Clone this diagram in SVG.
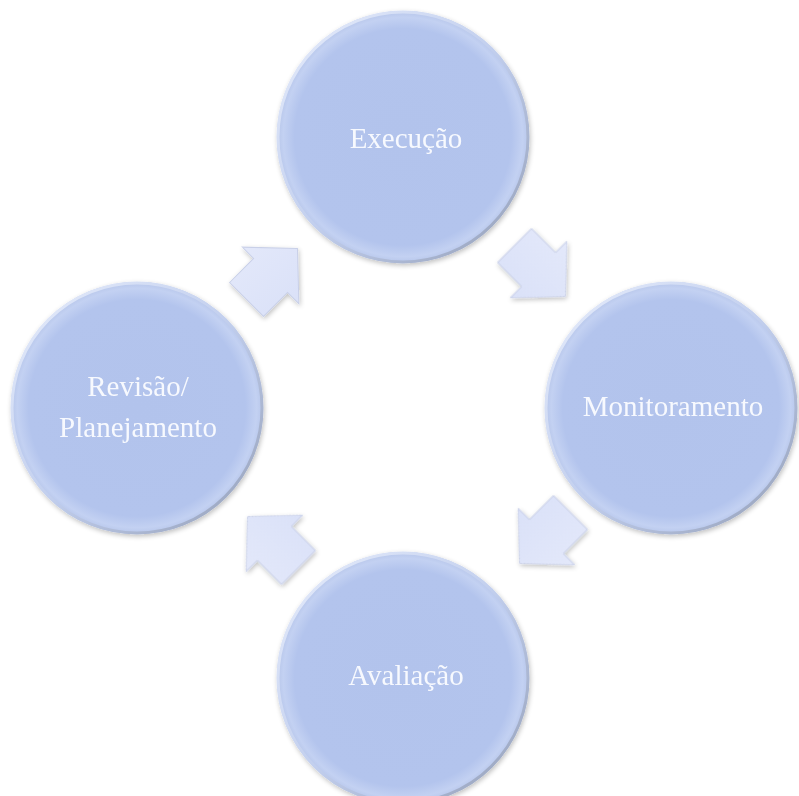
<svg xmlns="http://www.w3.org/2000/svg" width="799" height="796" viewBox="0 0 799 796">
<style>
.lbl{font-family:"Liberation Serif","Times New Roman",serif;font-size:29px;fill:#f7f9fe;text-anchor:middle}
.arr{fill:url(#arrFill);stroke:#c9d0e8;stroke-width:1}
.circ{fill:url(#circFill)}
.rim{fill:none;stroke:url(#rimGrad);stroke-width:3}
</style>
<defs>
<radialGradient id="circFill" cx="0.5" cy="0.5" r="0.5">
<stop offset="0" stop-color="#b2c3ec"/>
<stop offset="0.86" stop-color="#b3c4ed"/>
<stop offset="0.95" stop-color="#c3d1f2"/>
<stop offset="1" stop-color="#b7c6ea"/>
</radialGradient>
<linearGradient id="rimGrad" x1="0" y1="0" x2="1" y2="1">
<stop offset="0" stop-color="#e8eefc"/>
<stop offset="0.5" stop-color="#c2cfee"/>
<stop offset="1" stop-color="#939eb6"/>
</linearGradient>
<linearGradient id="arrFill" x1="0" y1="0" x2="0" y2="1">
<stop offset="0" stop-color="#e3e8fa"/>
<stop offset="1" stop-color="#dae1f8"/>
</linearGradient>
<filter id="sh" x="-20%" y="-20%" width="140%" height="140%">
<feGaussianBlur in="SourceAlpha" stdDeviation="2.5"/>
<feOffset dx="1" dy="2"/>
<feComponentTransfer><feFuncA type="linear" slope="0.25"/></feComponentTransfer>
<feMerge><feMergeNode/><feMergeNode in="SourceGraphic"/></feMerge>
</filter>
<polygon id="arrow" points="-36,-24 -2,-24 -2,-40 36,0 -2,40 -2,24 -36,24"/>
</defs>

<g id="connectors" filter="url(#sh)">
<use href="#arrow" class="arr" transform="translate(272,274) rotate(-45)"/>
<use href="#arrow" class="arr" transform="translate(540,271) rotate(45)"/>
<use href="#arrow" class="arr" transform="translate(545,538) rotate(135)"/>
<use href="#arrow" class="arr" transform="translate(273,542) rotate(-135)"/>
</g>

<g id="execucao" filter="url(#sh)">
<circle class="circ" cx="403" cy="137" r="126"/>
<circle class="rim" cx="403" cy="137" r="125"/>
<text class="lbl" x="406" y="148">Execução</text>
</g>

<g id="monitoramento" filter="url(#sh)">
<circle class="circ" cx="671" cy="408" r="126"/>
<circle class="rim" cx="671" cy="408" r="125"/>
<text class="lbl" x="673" y="416">Monitoramento</text>
</g>

<g id="avaliacao" filter="url(#sh)">
<circle class="circ" cx="403" cy="678" r="126"/>
<circle class="rim" cx="403" cy="678" r="125"/>
<text class="lbl" x="406" y="685">Avaliação</text>
</g>

<g id="revisao" filter="url(#sh)">
<circle class="circ" cx="137" cy="408" r="126"/>
<circle class="rim" cx="137" cy="408" r="125"/>
<text class="lbl" x="138" y="396">Revisão/</text>
<text class="lbl" x="138" y="437">Planejamento</text>
</g>
</svg>
